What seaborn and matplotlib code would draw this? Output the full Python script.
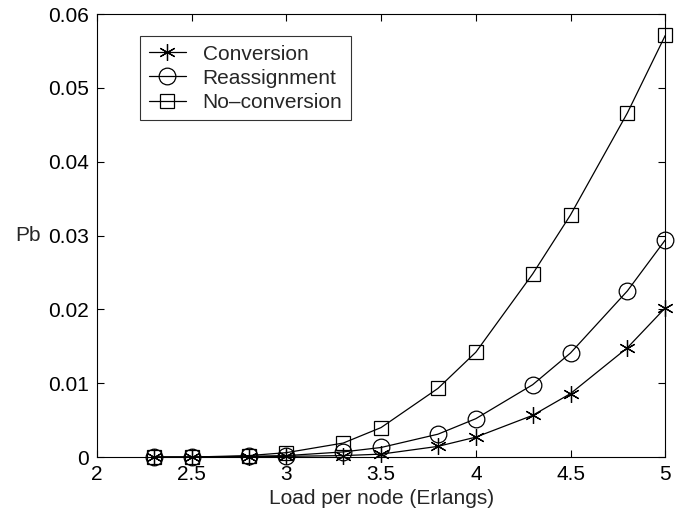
import pandas as pd
import matplotlib
matplotlib.use("Agg")
import matplotlib.pyplot as plt
import seaborn as sns

# Data
load = [2.3, 2.5, 2.8, 3.0, 3.3, 3.5, 3.8, 4.0, 4.3, 4.5, 4.8, 5.0]
pb_conversion = [0.0, 0.0, 0.00005, 0.0001, 0.0002, 0.0004, 0.00145, 0.0027, 0.00565, 0.0086, 0.0148, 0.0202]
pb_reassign = [0.0, 0.0, 0.0001, 0.0002, 0.0007, 0.0013, 0.0031, 0.0052, 0.0098, 0.0141, 0.0225, 0.0294]
pb_noconv = [0.0, 0.0, 0.0002, 0.0006, 0.0019, 0.0040, 0.0093, 0.0142, 0.0248, 0.0328, 0.0466, 0.0571]

series = [
    ("Conversion", pb_conversion, (6, 2, 0), 12),
    ("Reassignment", pb_reassign, "o", 12),
    ("No\u2013conversion", pb_noconv, "s", 10),
]

sns.set_theme(style="white")
plt.rcParams["font.family"] = ["Liberation Sans", "DejaVu Sans"]

fig = plt.figure(figsize=(6.83, 5.2), dpi=100)
ax = fig.add_axes([0.142, 0.121, 0.832, 0.852])

for name, vals, mk, ms in series:
    df = pd.DataFrame({"load": load, "pb": vals})
    sns.lineplot(
        data=df, x="load", y="pb", ax=ax, color="black", linewidth=0.9,
        marker=mk, markersize=ms, markerfacecolor="none",
        markeredgecolor="black", markeredgewidth=0.9, label=name,
        clip_on=False,
    )

ax.set_xlim(2, 5)
ax.set_ylim(0, 0.06)
ax.set_xticks([2, 2.5, 3, 3.5, 4, 4.5, 5])
ax.set_xticklabels(["2", "2.5", "3", "3.5", "4", "4.5", "5"])
ax.set_yticks([0, 0.01, 0.02, 0.03, 0.04, 0.05, 0.06])
ax.set_yticklabels(["0", "0.01", "0.02", "0.03", "0.04", "0.05", "0.06"])
ax.tick_params(direction="in", length=5, width=0.8, labelsize=15, colors="black",
               top=True, right=True, bottom=True, left=True, pad=6)
for s in ax.spines.values():
    s.set_color("black")
    s.set_linewidth(0.8)

ax.set_xlabel("Load per node (Erlangs)", fontsize=15, labelpad=3)
ax.set_ylabel("Pb", fontsize=15, rotation=0, va="center", ha="center")
ax.yaxis.set_label_coords(-0.122, 0.5)

leg = ax.legend(loc="upper left", bbox_to_anchor=(0.076, 0.95), fontsize=15,
                frameon=True, fancybox=False, edgecolor="black",
                handlelength=1.8, borderpad=0.4, labelspacing=0.25,
                handletextpad=0.8, borderaxespad=0)
leg.get_frame().set_linewidth(0.8)

fig.savefig("out.png", dpi=100)
